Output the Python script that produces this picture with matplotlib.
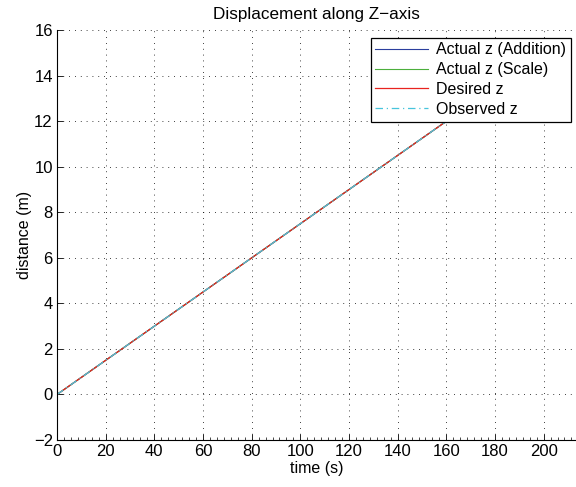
import numpy as np
import matplotlib.pyplot as plt
from matplotlib.ticker import MultipleLocator

plt.rcParams['font.family'] = ['Liberation Sans', 'DejaVu Sans']
plt.rcParams['font.size'] = 10

time = [0, 40, 80, 120, 160]
z_add = [0, 3, 6, 9, 12]
z_scale = [0, 3, 6, 9, 12]
z_desired = [0, 3, 6, 9, 12]
z_observed = [0, 3, 6, 9, 12]

figsize_px = np.array([576, 487])
dpi = 100
fig, ax = plt.subplots(figsize=figsize_px / dpi, dpi=dpi)
plt.subplots_adjust(left=0.099, right=1.0, bottom=0.0965, top=0.938)

ax.plot(time, z_add, color='#2b3f9e', linewidth=0.8, label='Actual z (Addition)')
ax.plot(time, z_scale, color='#4caf3c', linewidth=0.8, label='Actual z (Scale)')
ax.plot(time, z_desired, color='#e8231f', linewidth=0.9, label='Desired z')
ax.plot(time, z_observed, color='#47c4dc', linewidth=0.9, linestyle=(0, (6, 3, 1, 3)),
        label='Observed z')

ax.set_xlim(0, 213.3)
ax.set_ylim(-2, 16)
ax.set_xticks(np.arange(0, 201, 20))
ax.set_yticks(np.arange(-2, 17, 2))
ax.xaxis.set_minor_locator(MultipleLocator(20 / 7))
ax.tick_params(which='both', direction='in', top=False, right=False)
ax.tick_params(which='major', length=4, width=0.6, labelsize=12, pad=3)
ax.tick_params(which='minor', length=2, width=0.5)
ax.spines['top'].set_visible(False)
ax.spines['right'].set_visible(False)
ax.grid(True, linestyle=(0, (1, 6)), color='black', linewidth=0.6)

ax.set_title('Displacement along Z\u2212axis', fontsize=12.3, pad=8)
ax.set_xlabel('time (s)', fontsize=11.5, labelpad=1)
ax.set_ylabel('distance (m)', fontsize=11.5, labelpad=1)

leg = ax.legend(loc='upper right', bbox_to_anchor=(0.99, 0.982), fontsize=11.5,
                fancybox=False, framealpha=1, edgecolor='black', handlelength=3.3,
                borderpad=0.3, labelspacing=0.3, handletextpad=0.5, borderaxespad=0)
leg.get_frame().set_linewidth(0.9)

plt.savefig('out.png')
